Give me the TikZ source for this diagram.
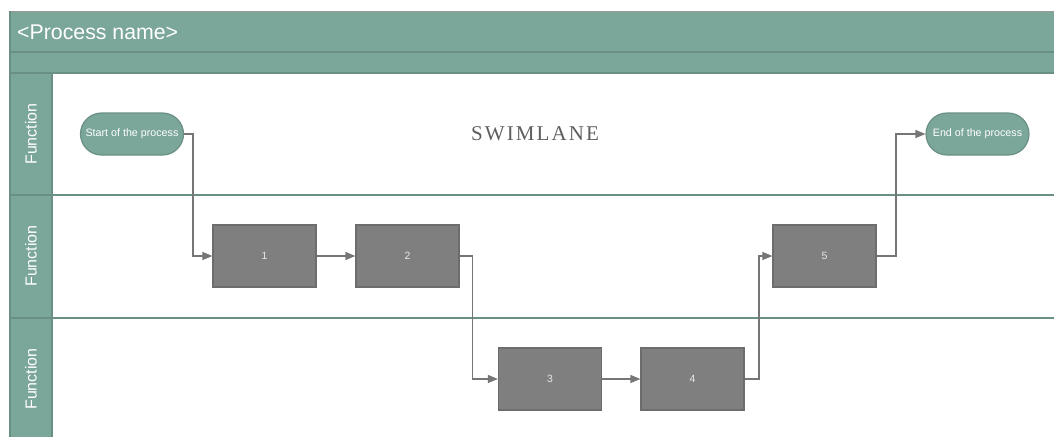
\documentclass[tikz,border=0pt]{standalone}
\usepackage{fontspec}
\setmainfont{Liberation Sans}
\newfontfamily\swimfont{Liberation Serif}[LetterSpace=10]
\usetikzlibrary{arrows.meta}
\definecolor{laneteal}{HTML}{7BA69A}
\definecolor{laneedge}{HTML}{6A9085}
\definecolor{boxgray}{HTML}{7F7F7F}
\definecolor{boxedge}{HTML}{6D6D6D}
\definecolor{flowgray}{HTML}{767676}
\definecolor{boxtext}{HTML}{E8E8E8}
\definecolor{titlegray}{HTML}{5E5E5E}

\tikzset{
  stepbox/.style={draw=boxedge, fill=boxgray, line width=1.2pt,
    minimum width=103pt, minimum height=62pt, inner sep=0pt,
    text=boxtext, font=\fontsize{10.5}{12}\selectfont},
  terminal/.style={draw=laneedge, fill=laneteal, line width=1.2pt,
    rounded corners=21pt, minimum width=103pt, minimum height=42pt,
    inner sep=0pt, text=white, font=\fontsize{10.7}{12}\selectfont},
  flow/.style={draw=flowgray, line width=1.3pt,
    -{Triangle[length=10pt,width=8pt]}},
  lanelabel/.style={rotate=90, text=white, font=\fontsize{16}{18}\selectfont},
  laneline/.style={draw=laneedge, line width=2pt}
}

\begin{document}
\begin{tikzpicture}[x=1pt,y=-1pt]
\useasboundingbox (0,0) rectangle (1054,437);

% pool header and function column
\fill[laneteal] (10,11) rectangle (1054,73);
\fill[laneteal] (10,73) rectangle (52,437);
\draw[draw=black!40, line width=1pt] (10,11) -- (1054,11);
\draw[laneline] (10,52) -- (1054,52);
\draw[laneline] (10,73) -- (1054,73);
\draw[laneline] (10,11) -- (10,437);
\draw[laneline] (52,73) -- (52,437);

% lane separators
\draw[laneline] (10,195) -- (1054,195);
\draw[laneline] (10,318) -- (1054,318);

% titles
\node[anchor=west, text=white, font=\fontsize{21.3}{24}\selectfont, inner sep=0pt]
  (title) at (17,32) {<Process name>};
\node[lanelabel] (f1) at (31,134) {Function};
\node[lanelabel] (f2) at (31,256) {Function};
\node[lanelabel] (f3) at (31,379) {Function};
\node[text=titlegray, font=\swimfont\fontsize{21}{24}\selectfont]
  (swim) at (535,134) {SWIMLANE};

% process shapes
\node[terminal] (start) at (132,134) {Start of the process};
\node[terminal] (end) at (977.5,134) {End of the process};
\node[stepbox] (b1) at (264.5,256) {1};
\node[stepbox] (b2) at (407.5,256) {2};
\node[stepbox] (b3) at (550,379) {3};
\node[stepbox] (b4) at (692.5,379) {4};
\node[stepbox] (b5) at (824.5,256) {5};

% connectors
\coordinate (k1) at (193,134);
\coordinate (k2) at (472.5,256);
\coordinate (k3) at (759,379);
\coordinate (k4) at (896,256);
\draw[flow] (start.east) -- (k1) |- (b1.west);
\draw[flow] (b1.east) -- (b2.west);
\draw[flow] (b2.east) -- (k2) |- (b3.west);
\draw[flow] (b3.east) -- (b4.west);
\draw[flow] (b4.east) -- (k3) |- (b5.west);
\draw[flow] (b5.east) -- (k4) |- (end.west);
\end{tikzpicture}
\end{document}
